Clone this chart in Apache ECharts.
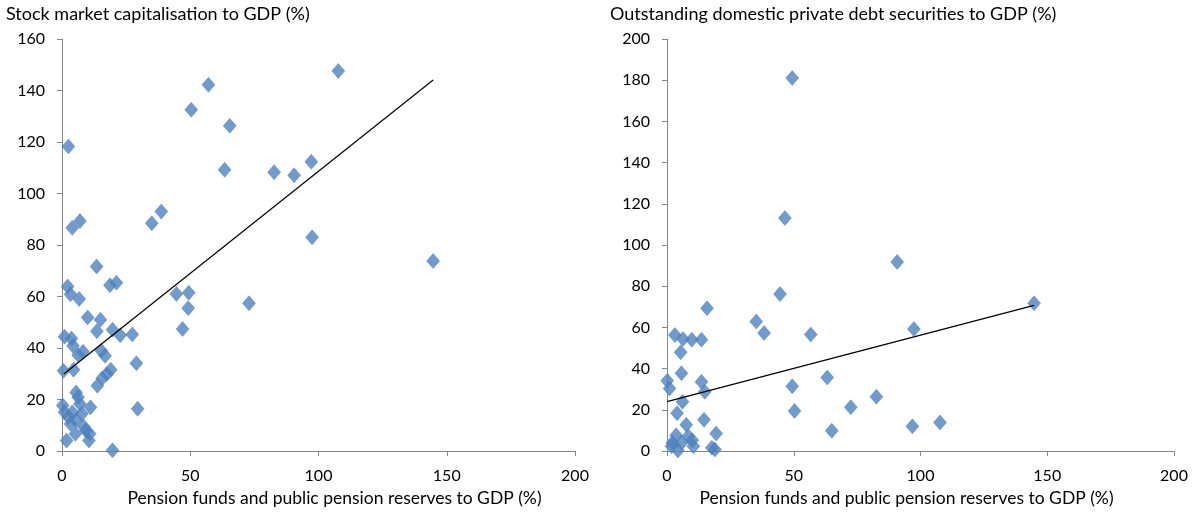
<!DOCTYPE html>
<html>
<head>
<meta charset="utf-8">
<script src="https://cdn.jsdelivr.net/npm/echarts@6/dist/echarts.min.js"></script>
<style>
  html,body{margin:0;padding:0;background:#fff;}
  #chart{width:1192px;height:512px;}
</style>
</head>
<body>
<div id="chart"></div>
<script>
// left panel: pension assets vs stock market capitalisation
var stockX = [107.7,57.1,50.4,65.4,2.5,97.2,63.4,82.7,90.5,38.7,35.0,7.0,4.0,97.5,144.7,13.5,18.7,21.2,2.2,3.3,
  6.7,44.6,49.4,72.9,49.2,10.0,15.0,13.6,19.7,22.7,27.4,47.0,1.0,3.7,4.3,8.2,6.3,15.3,16.8,29.0,
  0.6,4.5,19.0,17.5,15.7,13.8,5.5,6.3,29.5,11.1,0.3,7.0,7.8,4.0,1.0,2.5,5.5,3.3,8.5,9.3,
  10.8,5.2,10.5,1.8,19.7];
var stockY = [147.6,142.2,132.5,126.3,118.3,112.3,109.2,108.3,107.1,93.0,88.5,89.3,86.7,83.0,73.8,71.7,64.4,65.4,63.9,60.9,
  59.1,61.0,61.5,57.4,55.5,51.9,51.0,46.5,47.1,45.0,45.3,47.4,44.4,43.7,40.9,38.6,37.3,39.0,37.0,34.1,
  31.2,31.6,31.6,29.9,28.3,25.4,22.8,20.9,16.4,17.0,17.7,18.3,14.5,15.1,15.1,13.2,11.9,10.6,9.5,8.0,
  6.7,6.7,4.1,4.1,0.3];
var stockTrendX = [0.7, 144.7];
var stockTrendY = [29.9, 144.1];

// right panel: pension assets vs private debt securities
var debtX = [49.4,46.5,90.8,44.6,144.8,15.8,35.2,38.3,56.7,97.4,3.1,6.3,9.8,13.6,5.4,5.7,0.1,1.0,13.6,14.9,
  63.2,49.4,6.1,82.6,72.5,50.3,4.0,14.6,107.7,96.8,7.6,65.0,19.4,3.6,8.4,10.0,2.1,5.8,10.4,17.7,
  18.9,4.3,1.8];
var debtY = [181.1,113.1,91.8,76.2,71.7,69.3,62.9,57.3,56.6,59.2,56.3,54.4,54.1,54.1,48.0,37.8,34.2,30.4,33.6,28.8,
  35.7,31.5,24.0,26.4,21.3,19.5,18.4,15.2,13.9,12.0,12.8,9.9,8.5,7.7,7.2,5.3,4.0,4.0,2.4,1.6,
  0.8,0.3,2.4];
var debtTrendX = [0, 144.8];
var debtTrendY = [24.0, 70.7];

var xTicks = [0, 50, 100, 150, 200];
var xName = 'Pension funds and public pension reserves to GDP (%)';
var titles = ['Stock market capitalisation to GDP (%)', 'Outstanding domestic private debt securities to GDP (%)'];

function pairs(xs, ys) {
  var res = [];
  for (var i = 0; i < xs.length; i++) {
    res.push([xs[i], ys[i]]);
  }
  return res;
}

var font = 'Lato, "Open Sans", sans-serif';
var axisGrey = '#868686';
var blue = '#4f81bd';

// namePad shifts the axis title a little off centre, like the original
function xAxisOpt(idx, namePad) {
  return {
    gridIndex: idx, type: 'value', min: xTicks[0], max: xTicks[xTicks.length - 1], interval: 50,
    name: xName, nameLocation: 'middle', nameGap: 34,
    nameTextStyle: {fontFamily: font, fontSize: 17.5, color: '#000', padding: namePad},
    axisLine: {show: true, onZero: false, lineStyle: {color: axisGrey, width: 1}},
    axisTick: {show: true, length: 5, lineStyle: {color: axisGrey}},
    axisLabel: {fontFamily: font, fontSize: 16, color: '#000', margin: 17},
    splitLine: {show: false}
  };
}

function yAxisOpt(idx, max) {
  return {
    gridIndex: idx, type: 'value', min: 0, max: max, interval: 20,
    axisLine: {show: true, onZero: false, lineStyle: {color: axisGrey, width: 1}},
    axisTick: {show: true, length: 5, lineStyle: {color: axisGrey}},
    axisLabel: {fontFamily: font, fontSize: 16, color: '#000', margin: 17},
    splitLine: {show: false}
  };
}

function scatterOpt(idx, data) {
  return {
    type: 'scatter', xAxisIndex: idx, yAxisIndex: idx, data: data,
    symbol: 'diamond', symbolSize: [13, 15],
    itemStyle: {color: blue, borderColor: '#4577b3', borderWidth: 0.5},
    silent: true, z: 3
  };
}

function trendOpt(idx, data) {
  return {
    type: 'line', xAxisIndex: idx, yAxisIndex: idx, data: data,
    symbol: 'none', lineStyle: {color: '#000', width: 1.2}, silent: true, z: 4
  };
}

var chart = echarts.init(document.getElementById('chart'));
chart.setOption({
  animation: false,
  title: [
    {text: titles[0], left: 1, top: 0, textStyle: {fontFamily: font, fontSize: 18, fontWeight: 'normal', color: '#000'}},
    {text: titles[1], left: 605, top: 0, textStyle: {fontFamily: font, fontSize: 18, fontWeight: 'normal', color: '#000'}}
  ],
  grid: [
    {left: 62, width: 513, top: 39, height: 413.5},
    {left: 667, width: 507, top: 39, height: 414.5}
  ],
  xAxis: [xAxisOpt(0, [0, 0, 0, 32]), xAxisOpt(1, [0, 28, 0, 0])],
  yAxis: [yAxisOpt(0, 160), yAxisOpt(1, 200)],
  series: [
    scatterOpt(0, pairs(stockX, stockY)),
    trendOpt(0, pairs(stockTrendX, stockTrendY)),
    scatterOpt(1, pairs(debtX, debtY)),
    trendOpt(1, pairs(debtTrendX, debtTrendY))
  ]
});
</script>
</body>
</html>
